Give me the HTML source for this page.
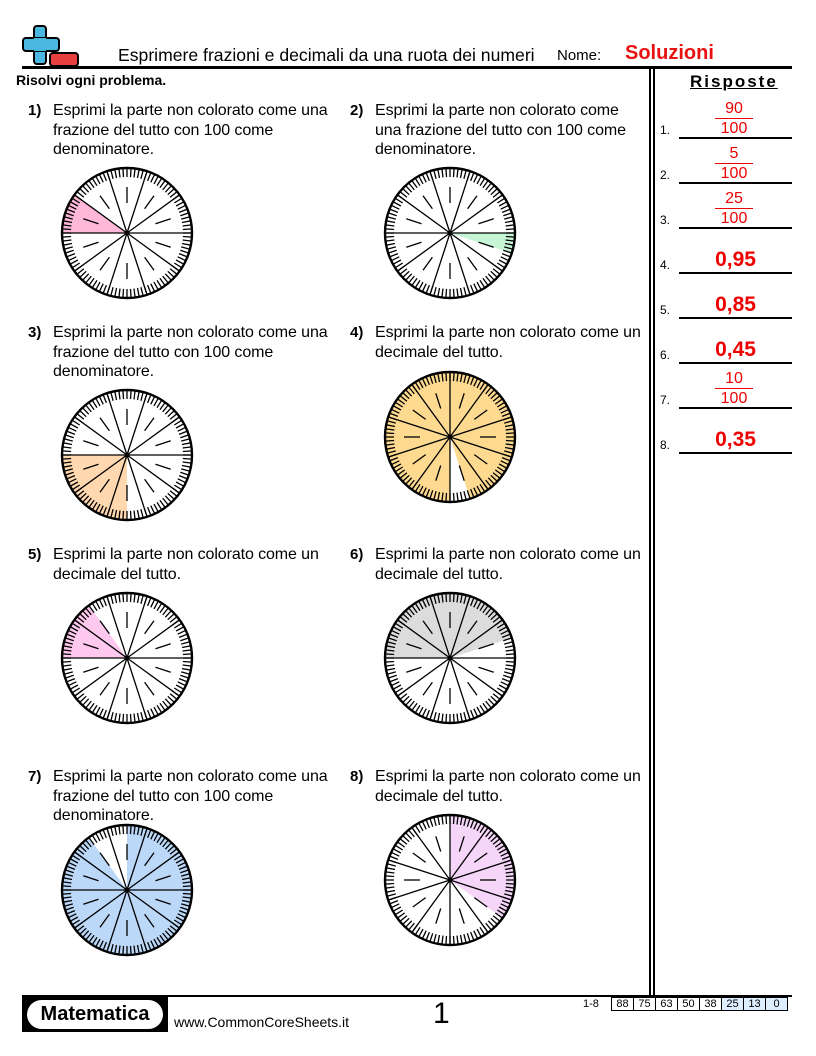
<!DOCTYPE html>
<html><head><meta charset="utf-8"><style>
body{margin:0;background:#fff;}
#p{position:relative;width:816px;height:1056px;font-family:"Liberation Sans",sans-serif;color:#000;overflow:hidden}
.a{position:absolute;white-space:nowrap}
.q{position:absolute;font-size:16px;line-height:19.5px}
.q b{position:absolute;left:0;top:0;font-size:15px}
.q span{position:absolute;left:25px;top:0;white-space:nowrap;letter-spacing:-0.1px}
.ln{position:absolute;left:679px;width:113px;height:1.5px;background:#000}
.n{position:absolute;left:660px;font-size:12px}
.fr{position:absolute;left:715px;width:38px;text-align:center;color:#e00;font-size:16px;line-height:19px}
.fr i{display:block;height:1px;background:#e00;margin:0 0}
.dc{position:absolute;left:679px;width:113px;text-align:center;color:#e00;font-weight:bold;font-size:21px}
</style></head><body><div id="p">
<svg class="a" style="left:22px;top:24px" width="58" height="44"><rect x="12" y="2" width="12" height="38" rx="3" fill="#4ab8e0" stroke="#000" stroke-width="2"/><rect x="1" y="14" width="36" height="13" rx="3" fill="#4ab8e0" stroke="#000" stroke-width="2"/><rect x="12" y="14" width="12" height="13" fill="#4ab8e0"/><rect x="28" y="29" width="28" height="13" rx="3" fill="#e84040" stroke="#000" stroke-width="2"/></svg>
<div class="a" style="left:118px;top:45px;font-size:17.6px">Esprimere frazioni e decimali da una ruota dei numeri</div>
<div class="a" style="left:557px;top:47px;font-size:15px">Nome:</div>
<div class="a" style="left:625px;top:42px;font-size:20px;font-weight:bold;color:#e81010">Soluzioni</div>
<div class="a" style="left:22px;top:66px;width:770px;height:2.5px;background:#000"></div>
<div class="a" style="left:649px;top:68px;width:1.5px;height:928px;background:#000"></div>
<div class="a" style="left:653px;top:68px;width:1.5px;height:928px;background:#000"></div>
<div class="a" style="left:16px;top:72px;font-size:14px;font-weight:bold">Risolvi ogni problema.</div>
<div class="a" style="left:690px;top:72px;font-size:17px;font-weight:bold;letter-spacing:2px;text-decoration:underline">Risposte</div>

<div class="q" style="left:28px;top:101px"><b>1)</b><span>Esprimi la parte non colorato come una<br>frazione del tutto con 100 come<br>denominatore.</span></div>
<div class="q" style="left:350px;top:101px"><b>2)</b><span>Esprimi la parte non colorato come<br>una frazione del tutto con 100 come<br>denominatore.</span></div>
<div class="q" style="left:28px;top:323px"><b>3)</b><span>Esprimi la parte non colorato come una<br>frazione del tutto con 100 come<br>denominatore.</span></div>
<div class="q" style="left:350px;top:323px"><b>4)</b><span>Esprimi la parte non colorato come un<br>decimale del tutto.</span></div>
<div class="q" style="left:28px;top:545px"><b>5)</b><span>Esprimi la parte non colorato come un<br>decimale del tutto.</span></div>
<div class="q" style="left:350px;top:545px"><b>6)</b><span>Esprimi la parte non colorato come un<br>decimale del tutto.</span></div>
<div class="q" style="left:28px;top:767px"><b>7)</b><span>Esprimi la parte non colorato come una<br>frazione del tutto con 100 come<br>denominatore.</span></div>
<div class="q" style="left:350px;top:767px"><b>8)</b><span>Esprimi la parte non colorato come un<br>decimale del tutto.</span></div>

<svg id="w" class="a" style="left:0;top:0" width="816" height="1056"></svg>

<div class="n" style="top:123px">1.</div><div class="ln" style="top:137px"></div>
<div class="n" style="top:168px">2.</div><div class="ln" style="top:182px"></div>
<div class="n" style="top:213px">3.</div><div class="ln" style="top:227px"></div>
<div class="n" style="top:258px">4.</div><div class="ln" style="top:272px"></div>
<div class="n" style="top:303px">5.</div><div class="ln" style="top:317px"></div>
<div class="n" style="top:348px">6.</div><div class="ln" style="top:362px"></div>
<div class="n" style="top:393px">7.</div><div class="ln" style="top:407px"></div>
<div class="n" style="top:438px">8.</div><div class="ln" style="top:452px"></div>
<div class="fr" style="top:99px">90<i></i>100</div>
<div class="fr" style="top:144px">5<i></i>100</div>
<div class="fr" style="top:189px">25<i></i>100</div>
<div class="dc" style="top:248px">0,95</div>
<div class="dc" style="top:293px">0,85</div>
<div class="dc" style="top:338px">0,45</div>
<div class="fr" style="top:369px">10<i></i>100</div>
<div class="dc" style="top:428px">0,35</div>

<div class="a" style="left:22px;top:995px;width:770px;height:2px;background:#000"></div>
<div class="a" style="left:22px;top:997px;width:146px;height:35px;background:#000"></div>
<div class="a" style="left:27px;top:1000px;width:136px;height:29px;background:#fff;border-radius:15px;font-size:20px;font-weight:bold;text-align:center;line-height:29px">Matematica</div>
<div class="a" style="left:174px;top:1014px;font-size:14px">www.CommonCoreSheets.it</div>
<div class="a" style="left:433px;top:997px;font-size:30px">1</div>
<div class="a" style="left:583px;top:998px;font-size:11px">1-8</div>
<div class="a" style="left:611px;top:997px;display:flex;font-size:11px;border:1px solid #000">
<div style="width:21px;text-align:center;border-right:1px solid #000">88</div><div style="width:21px;text-align:center;border-right:1px solid #000">75</div><div style="width:21px;text-align:center;border-right:1px solid #000">63</div><div style="width:21px;text-align:center;border-right:1px solid #000">50</div><div style="width:21px;text-align:center;border-right:1px solid #000">38</div><div style="width:21px;text-align:center;border-right:1px solid #000;background:#ddeeff">25</div><div style="width:21px;text-align:center;border-right:1px solid #000;background:#ddeeff">13</div><div style="width:21px;text-align:center;background:#ddeeff">0</div></div>
</div>
<script>
var s=document.getElementById('w'),h='';
function P(cx,cy,r,a){a=a*Math.PI/180;return [cx+r*Math.sin(a),cy-r*Math.cos(a)];}
function L(a,b,w){return '<line x1="'+a[0].toFixed(1)+'" y1="'+a[1].toFixed(1)+'" x2="'+b[0].toFixed(1)+'" y2="'+b[1].toFixed(1)+'" stroke="#000" stroke-width="'+w+'"/>';}
function wheel(cx,cy,off,sh){var R=65;
 sh.forEach(function(q){var a1=q[0],a2=q[1],c=q[2],p1=P(cx,cy,R,a1),p2=P(cx,cy,R,a2),lg=(a2-a1)>180?1:0;
  h+='<path d="M'+cx+' '+cy+'L'+p1[0].toFixed(1)+' '+p1[1].toFixed(1)+'A'+R+' '+R+' 0 '+lg+' 1 '+p2[0].toFixed(1)+' '+p2[1].toFixed(1)+'Z" fill="'+c+'"/>';});
 for(var i=0;i<100;i++){var a=i*3.6;h+=L(P(cx,cy,R,a),P(cx,cy,R-9,a),1.3);}
 for(var k=0;k<10;k++){var a=off+k*36;h+=L([cx,cy],P(cx,cy,R,a),1.3);
  h+=L(P(cx,cy,30,a+18),P(cx,cy,46,a+18),1.3);}
 h+='<circle cx="'+cx+'" cy="'+cy+'" r="'+R+'" fill="none" stroke="#000" stroke-width="2.4"/><circle cx="'+cx+'" cy="'+cy+'" r="2.5"/>';}
wheel(127,233,90,[[270,306,'#ffb8d8']]);
wheel(450,233,90,[[90,108,'#c6f5d6']]);
wheel(127,455,90,[[180,270,'#ffd8b0']]);
wheel(450,437,0,[[180,522,'#fdda90']]);
wheel(127,658,90,[[270,324,'#ffc8ee']]);
wheel(450,658,90,[[270,432,'#dcdcdc']]);
wheel(127,890,90,[[0,324,'#bcd8f8']]);
wheel(450,880,0,[[0,126,'#f6d6f8']]);
s.innerHTML=h;
</script>
</body></html>
